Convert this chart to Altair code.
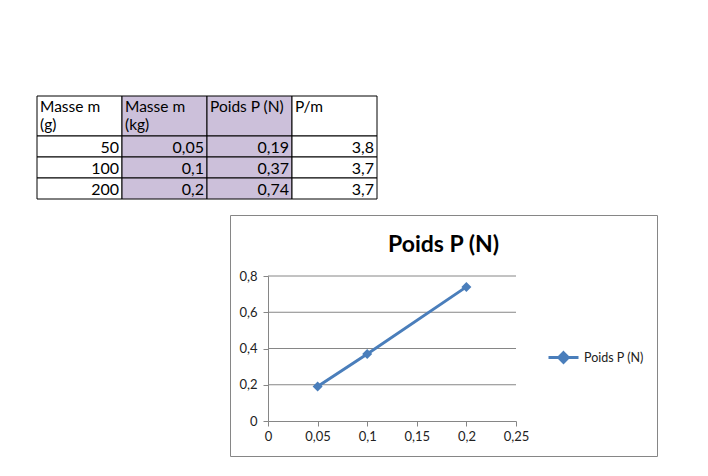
import altair as alt
import pandas as pd

# ---- data ----
masse_g = [50, 100, 200]
masse_kg = [0.05, 0.1, 0.2]
poids_n = [0.19, 0.37, 0.74]
p_sur_m = [3.8, 3.7, 3.7]
columns = ["A", "B", "C", "D"]
headers = ["Masse m\n(g)", "Masse m\n(kg)", "Poids P (N)", "P/m"]
table_rows = [4, 5, 6]
x_ticks = [0, 0.05, 0.1, 0.15, 0.2, 0.25]
y_ticks = [0, 0.2, 0.4, 0.6, 0.8]
series_name = "Poids P (N)"
chart_title = "Poids P (N)"

BLUE = "#4A7EBB"
GRAY = "#868686"
PURPLE = "#CCC0DA"
FONT = "Lato"
LABEL_EXPR = "replace(format(datum.value, '~g'), '.', ',')"


def fr(v):
    return str(v).replace(".", ",")


# ---- table ----
col_scale = alt.Scale(domain=columns, paddingInner=0, paddingOuter=0)
fill_scale = alt.Scale(domain=columns, range=["#FFFFFF", PURPLE, PURPLE, "#FFFFFF"])

header_df = pd.DataFrame({"col": columns, "text": headers, "row": 3})
hbase = alt.Chart(header_df)
header_rect = hbase.mark_rect(stroke="black", strokeWidth=1).encode(
    x=alt.X("col:N", scale=col_scale, axis=None),
    y=alt.Y("row:O", scale=alt.Scale(paddingInner=0, paddingOuter=0), axis=None),
    fill=alt.Fill("col:N", scale=fill_scale, legend=None),
)
header_text = hbase.mark_text(
    align="left", baseline="top", dx=3, dy=4, lineBreak="\n", lineHeight=18,
    font=FONT, fontSize=15.5, color="black"
).encode(
    x=alt.X("col:N", scale=col_scale, axis=None, bandPosition=0),
    y=alt.Y("row:O", scale=alt.Scale(paddingInner=0, paddingOuter=0), axis=None, bandPosition=0),
    text="text:N",
)
header = alt.layer(header_rect, header_text).properties(width=340, height=40)

body_records = []
for i, r in enumerate(table_rows):
    body_records.append({"row": r, "col": "A", "text": str(masse_g[i])})
    body_records.append({"row": r, "col": "B", "text": fr(masse_kg[i])})
    body_records.append({"row": r, "col": "C", "text": fr(poids_n[i])})
    body_records.append({"row": r, "col": "D", "text": fr(p_sur_m[i])})
body_df = pd.DataFrame(body_records)
row_scale = alt.Scale(domain=table_rows, paddingInner=0, paddingOuter=0)
bbase = alt.Chart(body_df)
body_rect = bbase.mark_rect(stroke="black", strokeWidth=1).encode(
    x=alt.X("col:N", scale=col_scale, axis=None),
    y=alt.Y("row:O", scale=row_scale, axis=None),
    fill=alt.Fill("col:N", scale=fill_scale, legend=None),
)
body_text = bbase.mark_text(
    align="right", baseline="middle", dx=-3, dy=1, font=FONT, fontSize=16, color="black"
).encode(
    x=alt.X("col:N", scale=col_scale, axis=None, bandPosition=1),
    y=alt.Y("row:O", scale=row_scale, axis=None),
    text="text:N",
)
body = alt.layer(body_rect, body_text).properties(width=340, height=63)

# ---- Excel-style chart ----
data = pd.DataFrame({"m": masse_kg, "P": poids_n, "serie": series_name})
xs = alt.Scale(domain=[x_ticks[0], x_ticks[-1]], range=[38, 286], nice=False, zero=False)
ys = alt.Scale(domain=[y_ticks[0], y_ticks[-1]], range=[206, 61], nice=False, zero=False)

x_axis = alt.Axis(
    values=x_ticks, labelExpr=LABEL_EXPR, offset=-35, grid=False, title=None,
    domainColor=GRAY, tickColor=GRAY, tickSize=5, labelFont=FONT, labelFontSize=13,
    labelColor="#222222", labelPadding=4, labelFlush=False,
)
y_axis = alt.Axis(
    values=y_ticks, labelExpr=LABEL_EXPR, offset=-38, grid=False, title=None,
    domainColor=GRAY, tickColor=GRAY, tickSize=5, labelFont=FONT, labelFontSize=13,
    labelColor="#222222", labelPadding=6, labelFlush=False,
)

grid_df = pd.DataFrame({"y": y_ticks[1:], "x0": x_ticks[0], "x1": x_ticks[-1]})
grid = alt.Chart(grid_df).mark_rule(color=GRAY, strokeWidth=1).encode(
    x=alt.X("x0:Q", scale=xs, axis=x_axis),
    x2="x1:Q",
    y=alt.Y("y:Q", scale=ys, axis=y_axis),
)

legend_symbol = "M-1,0L1,0M0,-0.32L0.32,0L0,0.32L-0.32,0Z"
line = alt.Chart(data).mark_line(
    strokeWidth=3,
    point=alt.OverlayMarkDef(shape="diamond", size=100, filled=True),
).encode(
    x=alt.X("m:Q", scale=xs, axis=x_axis),
    y=alt.Y("P:Q", scale=ys, axis=y_axis),
    color=alt.Color(
        "serie:N",
        scale=alt.Scale(range=[BLUE]),
        legend=alt.Legend(
            orient="none", legendX=510, legendY=245, title=None,
            symbolType=legend_symbol, symbolSize=900, symbolStrokeWidth=3,
            symbolFillColor=BLUE, labelFont=FONT, labelFontSize=12.5,
            labelColor="#222222", labelOffset=4,
        ),
    ),
)

chart_panel = alt.layer(grid, line).properties(
    width=427,
    height=241,
    title=alt.TitleParams(
        chart_title, anchor="middle", font=FONT, fontSize=23, fontWeight="bold",
        color="black", offset=-42,
    ),
    view=alt.ViewBackground(stroke=GRAY, strokeWidth=1),
)

spacer = alt.Chart(pd.DataFrame({"v": [0]})).mark_point(opacity=0).properties(
    width=192, height=10
)

chart = alt.vconcat(
    alt.vconcat(header, body, spacing=-1, bounds="flush"),
    alt.hconcat(spacer, chart_panel, spacing=0),
    spacing=14,
).properties(
    padding={"left": 28, "top": 87, "right": 5, "bottom": 5},
    background="white",
).configure_view(strokeWidth=0)

chart.save("out.html", embed_options={"renderer": "svg", "actions": False})
